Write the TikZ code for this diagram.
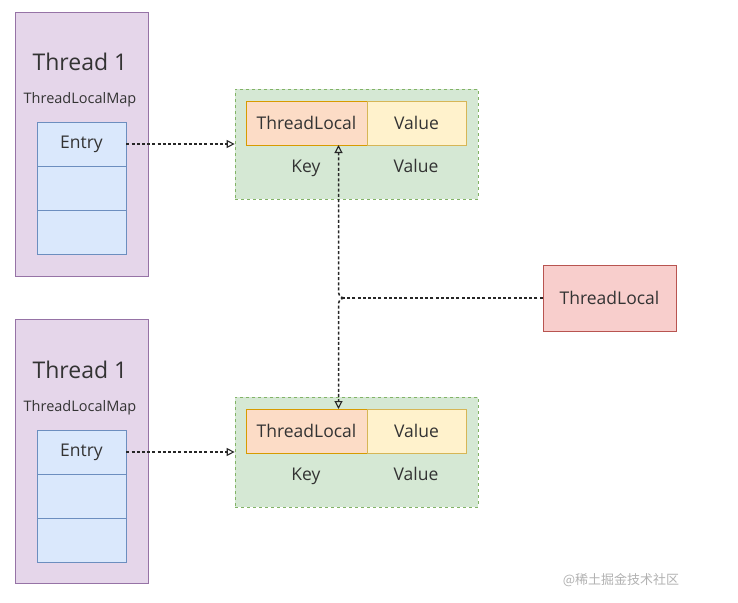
\documentclass[tikz,border=0pt]{standalone}
\usepackage{fontspec}
\setmainfont{Open Sans}
\newfontfamily\cjkfont{Noto Sans CJK SC}
\usetikzlibrary{arrows.meta}
\definecolor{thrfill}{HTML}{E5D6EA}
\definecolor{thrline}{HTML}{9673A6}
\definecolor{entfill}{HTML}{DAE8FC}
\definecolor{entline}{HTML}{6C8EBF}
\definecolor{kvfill}{HTML}{D5E8D4}
\definecolor{kvline}{HTML}{82B366}
\definecolor{keyfill}{HTML}{FCDCC6}
\definecolor{keyline}{HTML}{D79B00}
\definecolor{valfill}{HTML}{FFF2CC}
\definecolor{valline}{HTML}{D6B656}
\definecolor{tlfill}{HTML}{F8CECC}
\definecolor{tlline}{HTML}{B85450}
\definecolor{txt}{HTML}{333333}
\tikzset{
  thread/.style={draw=thrline, fill=thrfill, line width=0.8pt, minimum width=133pt, minimum height=264pt, inner sep=0pt},
  entrycell/.style={draw=entline, fill=entfill, line width=0.8pt, minimum width=89pt, minimum height=44pt, inner sep=0pt, text=txt, font=\fontsize{17.5}{20}\selectfont},
  kvbox/.style={draw=kvline, fill=kvfill, dashed, line width=0.7pt, minimum width=243pt, minimum height=110pt, inner sep=0pt},
  keycell/.style={draw=keyline, fill=keyfill, line width=0.8pt, minimum width=121pt, minimum height=44pt, inner sep=0pt, text=txt, font=\fontsize{17.5}{20}\selectfont},
  valcell/.style={draw=valline, fill=valfill, line width=0.8pt, minimum width=99pt, minimum height=44pt, inner sep=0pt, text=txt, font=\fontsize{17.5}{20}\selectfont},
  tlbox/.style={draw=tlline, fill=tlfill, line width=0.8pt, minimum width=133pt, minimum height=66pt, inner sep=0pt, text=txt, font=\fontsize{17.5}{20}\selectfont},
  title/.style={text=txt, font=\fontsize{23}{26}\selectfont},
  maplabel/.style={text=txt, font=\fontsize{14.5}{17}\selectfont},
  kvlabel/.style={text=txt, anchor=base, font=\fontsize{17.5}{20}\selectfont},
  link/.style={line width=1.5pt, dash pattern=on 3pt off 2.2pt, draw=black!85},
  tip/.style={-{Triangle[open, length=8pt, width=8pt, line width=1.1pt]}},
}
\begin{document}
\begin{tikzpicture}[x=1pt, y=-1pt]
\useasboundingbox (0,0) rectangle (738,602);
\fill[white] (0,0) rectangle (738,602);

% upper thread
\node[thread] (th1) at (81.5,144.5) {};
\node[title] (th1t) at (80,62) {Thread 1};
\node[maplabel] (th1m) at (80,100) {ThreadLocalMap};
\node[entrycell] (e1a) at (81.5,144) {Entry};
\node[entrycell] (e1b) at (81.5,188) {};
\node[entrycell] (e1c) at (81.5,232) {};

% lower thread
\node[thread] (th2) at (81.5,451.5) {};
\node[title] (th2t) at (80,370) {Thread 1};
\node[maplabel] (th2m) at (80,408) {ThreadLocalMap};
\node[entrycell] (e2a) at (81.5,452) {Entry};
\node[entrycell] (e2b) at (81.5,496) {};
\node[entrycell] (e2c) at (81.5,540) {};

% upper key/value pair
\node[kvbox] (kv1) at (356.5,144) {};
\node[keycell] (k1) at (306.5,123) {ThreadLocal};
\node[valcell] (v1) at (416.5,123) {Value};
\node[kvlabel] (k1l) at (306,172) {Key};
\node[kvlabel] (v1l) at (416,172) {Value};

% lower key/value pair
\node[kvbox] (kv2) at (356.5,452) {};
\node[keycell] (k2) at (306.5,431) {ThreadLocal};
\node[valcell] (v2) at (416.5,431) {Value};
\node[kvlabel] (k2l) at (306,480) {Key};
\node[kvlabel] (v2l) at (416,480) {Value};

% shared ThreadLocal
\node[tlbox] (tl) at (609.5,298) {ThreadLocal};

% entry references
\draw[link, tip] (e1a.east) -- (kv1.west |- e1a.east);
\draw[link, tip] (e2a.east) -- (kv2.west |- e2a.east);

% ThreadLocal shared by both keys
\coordinate (jn) at (344,298);
\coordinate (k1b) at (338.5,145);
\coordinate (k2t) at (338.5,409);
\draw[link] (tl.west) -- (jn);
\draw[link, tip] (jn) .. controls (339.5,297) and (338.5,295) .. (338.5,290) -- (k1b);
\draw[link, tip] (jn) .. controls (339.5,299) and (338.5,301) .. (338.5,306) -- (k2t);

% watermark
\node[text=black!30, font=\cjkfont\fontsize{13}{15}\selectfont] (wm) at (621,580) {@稀土掘金技术社区};
\end{tikzpicture}
\end{document}
